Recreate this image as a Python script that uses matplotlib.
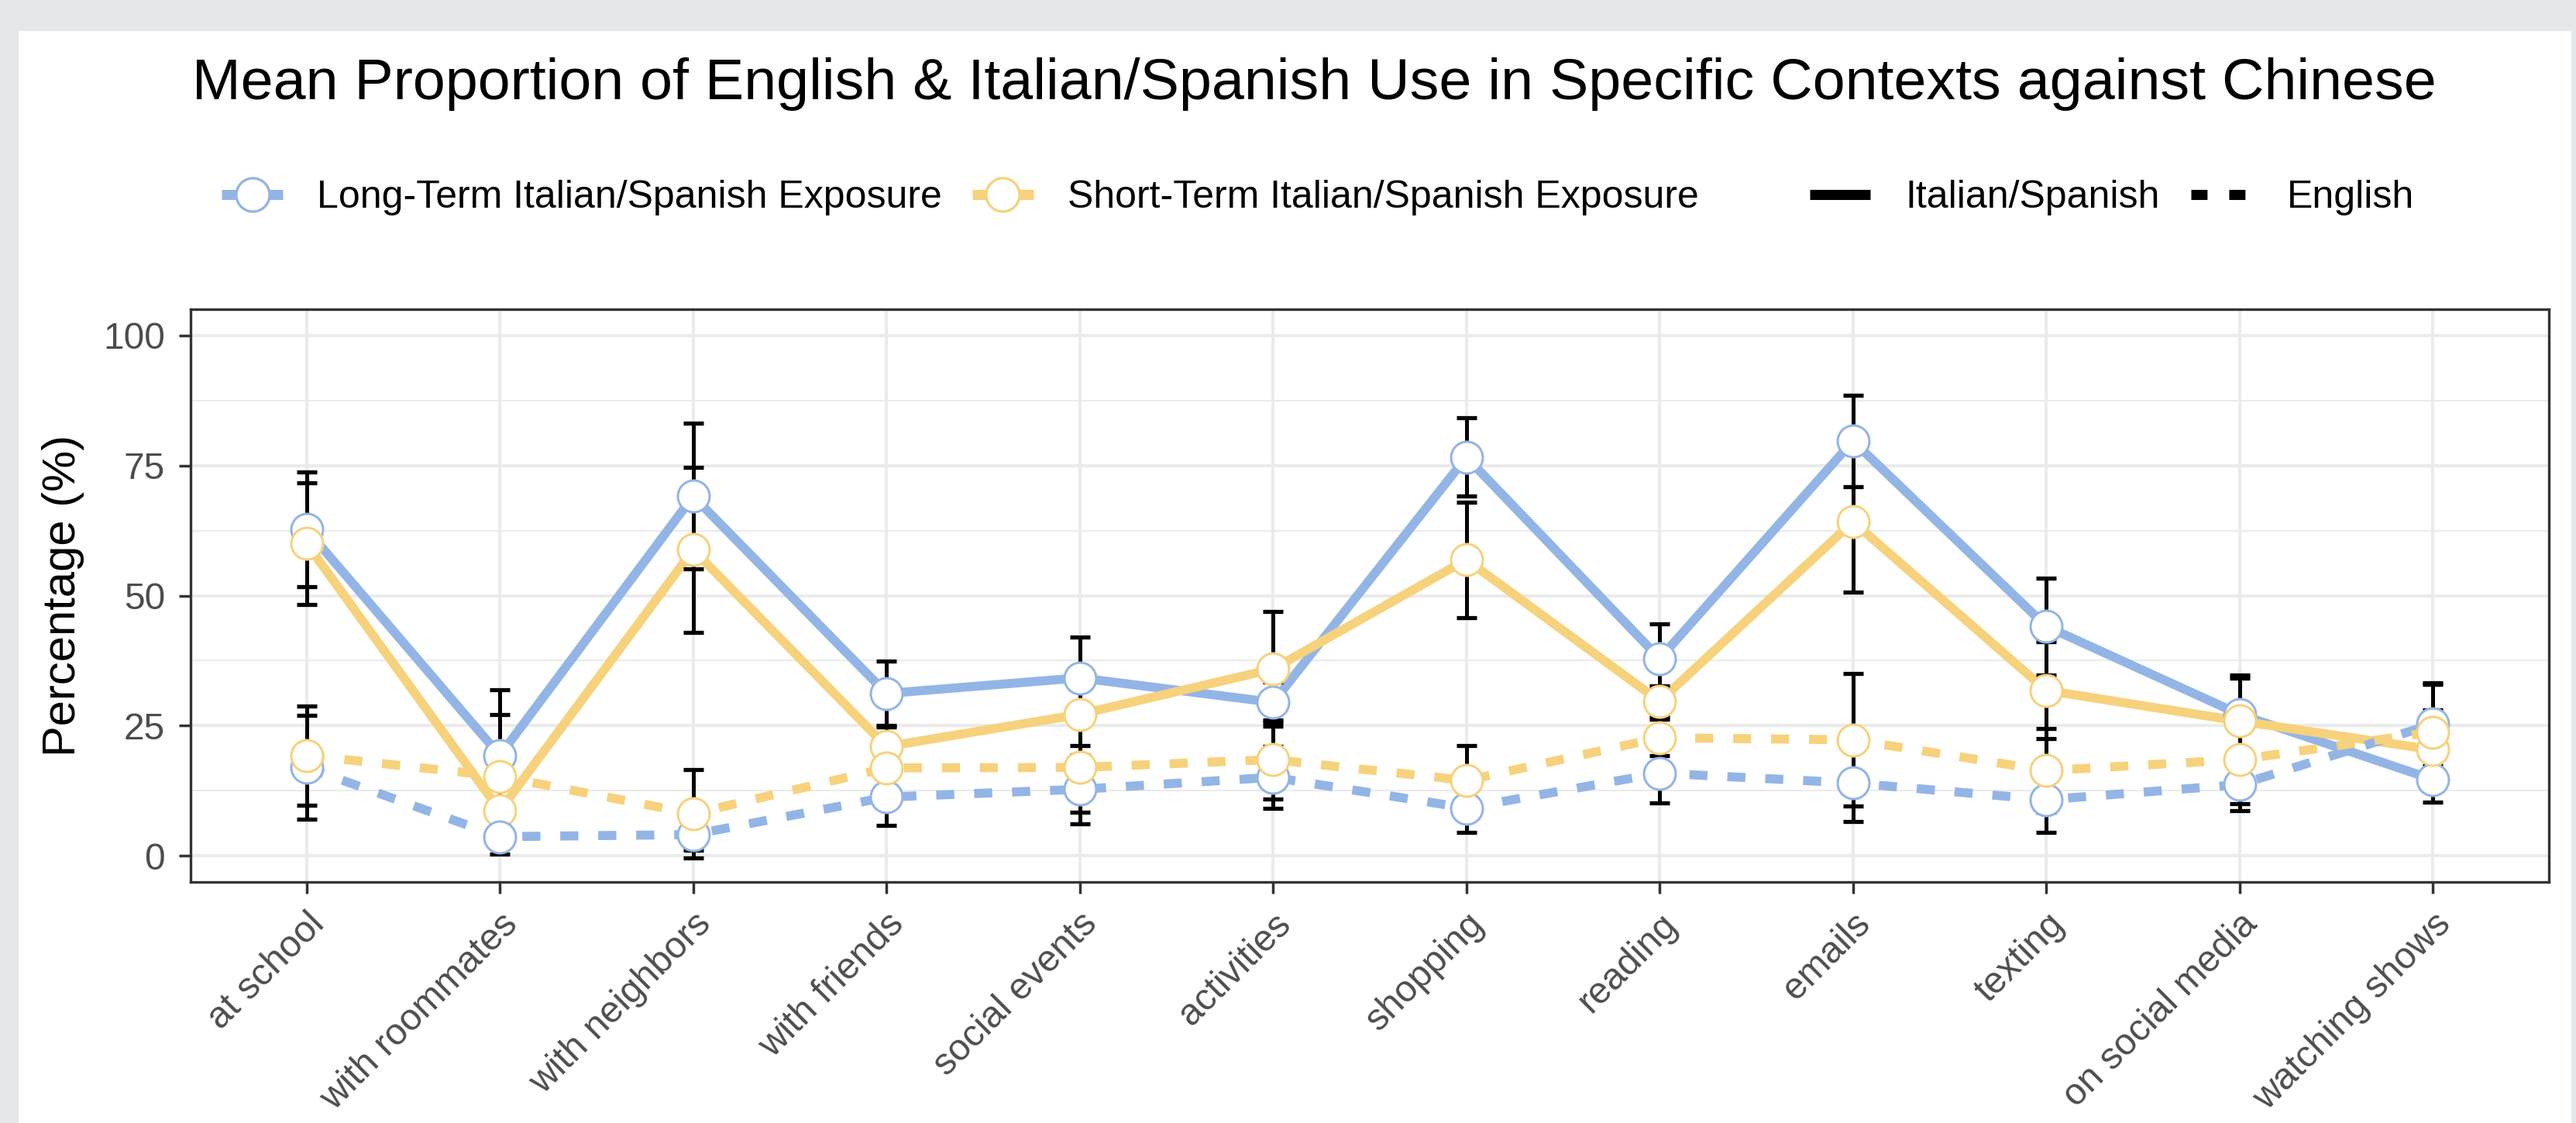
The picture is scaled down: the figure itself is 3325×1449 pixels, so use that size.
import numpy as np
import matplotlib
matplotlib.use("Agg")
import matplotlib.pyplot as plt
import matplotlib.transforms as mtransforms
from matplotlib.lines import Line2D
from matplotlib.patches import Rectangle
from matplotlib.ticker import MultipleLocator

plt.rcParams['font.family'] = ['Liberation Sans', 'DejaVu Sans']

# Contexts on the x axis
contexts = ['at school', 'with roommates', 'with neighbors', 'with friends',
            'social events', 'activities', 'shopping', 'reading', 'emails',
            'texting', 'on social media', 'watching shows']

# Mean % of Italian/Spanish use (vs Chinese) and standard errors
lt_is = [62.7, 19.3, 69.1, 31.2, 34.2, 29.5, 76.6, 37.9, 79.7, 44.1, 27.2, 14.7]
lt_is_se = [11.0, 12.6, 14.0, 6.2, 7.8, 3.9, 7.5, 6.6, 8.8, 9.3, 7.6, 4.4]
st_is = [60.0, 8.7, 58.8, 21.0, 27.2, 35.9, 56.9, 29.7, 64.2, 31.8, 25.9, 20.4]
st_is_se = [11.7, 5.0, 15.9, 3.8, 6.0, 11.0, 11.1, 3.0, 13.6, 9.3, 8.2, 7.7]

# Mean % of English use (vs Chinese) and standard errors
lt_en = [17.0, 3.7, 4.1, 11.3, 12.8, 15.1, 9.2, 15.9, 14.0, 10.8, 13.7, 25.3]
lt_en_se = [10.0, 3.4, 3.0, 5.4, 6.6, 5.9, 4.6, 5.7, 7.4, 6.3, 5.0, 8.0]
st_en = [19.3, 15.3, 8.1, 16.9, 17.0, 18.5, 14.5, 22.7, 22.3, 16.4, 18.5, 23.8]
st_en_se = [9.5, 11.8, 8.5, 4.0, 8.6, 7.6, 6.7, 3.5, 12.7, 8.0, 8.5, 9.2]

BLUE = '#93b5e6'
GOLD = '#f7d27c'
DASH = (0, (2.0, 2.2))

W, H = 3325, 1449
fig = plt.figure(figsize=(W / 100, H / 100), dpi=100, facecolor='#e4e8eb')
# white card behind the whole chart
fig.patches.append(Rectangle((24 / W, 0), (3319 - 24) / W, (H - 40) / H,
                             transform=fig.transFigure, facecolor='white',
                             edgecolor='none', zorder=-10))

ax = fig.add_axes([246 / W, 1 - 1138 / H, 3044 / W, 739 / H])
ax.set_zorder(1)
x = np.arange(1, len(contexts) + 1)

series = [
    (lt_is, lt_is_se, BLUE, '-'),
    (st_is, st_is_se, GOLD, '-'),
    (lt_en, lt_en_se, BLUE, DASH),
    (st_en, st_en_se, GOLD, DASH),
]

for vals, se, col, ls in series:
    ax.plot(x, vals, color=col, lw=8.4, ls=ls, zorder=2,
            solid_capstyle='butt', dash_capstyle='butt', solid_joinstyle='round')
for vals, se, col, ls in series:
    ax.errorbar(x, vals, yerr=se, fmt='none', ecolor='black', elinewidth=3.6,
                capsize=9.5, capthick=3.8, zorder=3)
for vals, se, col, ls in series:
    ax.plot(x, vals, ls='none', marker='o', ms=29.5, mfc='white', mec=col,
            mew=2.2, zorder=4)

ax.set_xlim(0.4, 12.6)
ax.set_ylim(-5, 105)
ax.set_yticks([0, 25, 50, 75, 100])
ax.yaxis.set_minor_locator(MultipleLocator(12.5))
ax.set_xticks(x)
ax.set_xticklabels(contexts, rotation=45, ha='right', va='top',
                   rotation_mode='anchor')
shift = mtransforms.ScaledTranslation(20 / 100, 0, fig.dpi_scale_trans)
for lab in ax.get_xticklabels():
    lab.set_transform(lab.get_transform() + shift)

ax.set_axisbelow(True)
ax.grid(which='major', color='#ebebeb', lw=2.9)
ax.grid(which='minor', axis='y', color='#ebebeb', lw=1.45)
ax.tick_params(which='minor', length=0)
ax.tick_params(which='major', length=10.8, width=2.5, color='#333333',
               labelsize=34.5, labelcolor='#4d4d4d')
ax.tick_params(axis='y', pad=13)
ax.tick_params(axis='x', pad=12)
for sp in ax.spines.values():
    sp.set_color('#333333')
    sp.set_linewidth(2.4)

fig.text(1696 / W, 1 - 128 / H,
         'Mean Proportion of English & Italian/Spanish Use in Specific Contexts against Chinese',
         ha='center', va='baseline', fontsize=54.3, color='black')
fig.text(82 / W, 1 - 768.5 / H, 'Percentage (%)', rotation=90,
         ha='center', va='center', fontsize=43, color='black')

# Legends: exposure groups (colour) and language (line type)
exp_handles = [
    Line2D([], [], color=c, lw=9.4, solid_capstyle='butt', marker='o', ms=31,
           mfc='white', mec=c, mew=2.4)
    for c in (BLUE, GOLD)
]
fig.legend(exp_handles,
           ['Long-Term Italian/Spanish Exposure', 'Short-Term Italian/Spanish Exposure'],
           loc='center left', bbox_to_anchor=(286 / W, 1 - 255 / H), ncol=2,
           frameon=False, fontsize=36, handlelength=1.58, handletextpad=0.88,
           columnspacing=0.78, borderpad=0, borderaxespad=0)

lang_handles = [
    Line2D([], [], color='black', lw=9.4, solid_capstyle='butt'),
    Line2D([], [], color='black', lw=9.4, ls=(0, (1.6, 2.15))),
]
fig.legend(lang_handles, ['Italian/Spanish', 'English'],
           loc='center left', bbox_to_anchor=(2336 / W, 1 - 255 / H), ncol=2,
           frameon=False, fontsize=36, handlelength=1.56, handletextpad=0.9,
           columnspacing=0.82, borderpad=0, borderaxespad=0)

fig.savefig('out.png', dpi=100, facecolor=fig.get_facecolor())
